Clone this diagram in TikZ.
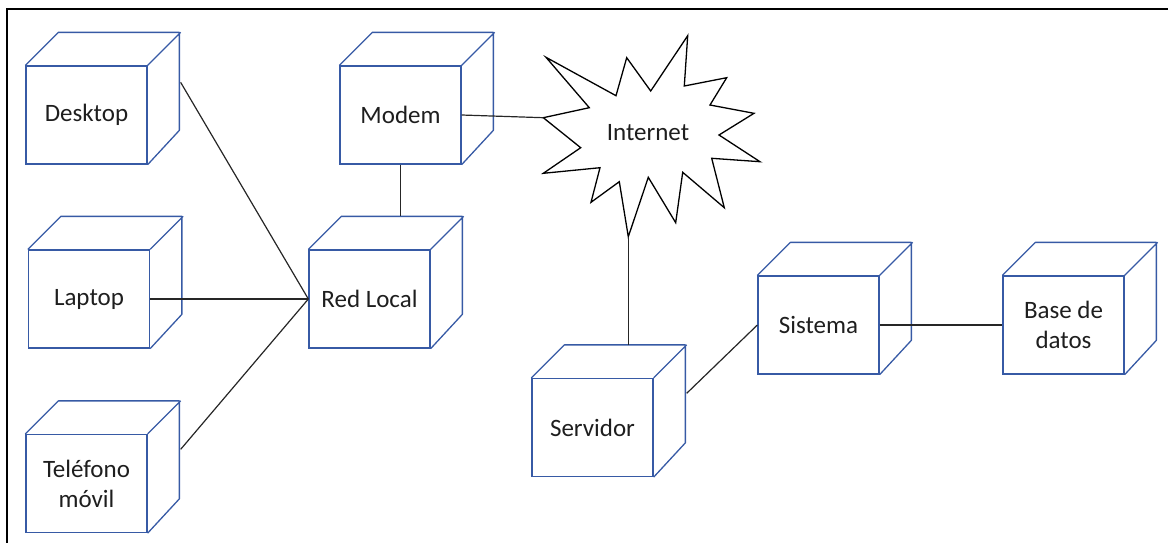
\documentclass[tikz,border=0pt]{standalone}
\usepackage{fontspec}
\setmainfont{Carlito}
\usetikzlibrary{calc}
\definecolor{cubeblue}{RGB}{55,90,165}
\definecolor{txt}{RGB}{30,30,30}
\begin{document}
\begin{tikzpicture}[x=1pt,y=-1pt,
  cube/.style={draw=cubeblue, line width=1.3pt, minimum width=121pt, minimum height=98pt,
    inner sep=0pt, align=center, text=txt, font=\fontsize{25}{30}\selectfont},
  cubeline/.style={draw=cubeblue, line width=1.3pt, line join=round},
  conn/.style={draw=black!85, line width=1.2pt}]
\useasboundingbox (0,0) rectangle (1168,542);
% frame
\draw[line width=2pt] (7,546) -- (7,9) -- (1172,9);
% cubes
\node[cube] (desk)  at (86.5,115)   {Desktop};
\node[cube] (lap)   at (89,299)     {Laptop};
\node[cube] (tel)   at (86.5,483.5) {Teléfono\\móvil};
\node[cube] (modem) at (400.5,115)  {Modem};
\node[cube] (red)   at (369.5,299)  {Red Local};
\node[cube] (serv)  at (592.5,427.5){Servidor};
\node[cube] (sis)   at (818.5,325)  {Sistema};
\node[cube] (base)  at (1063.5,325) {Base de\\datos};
\foreach \n in {desk,lap,tel,modem,red,serv,sis,base}
  \draw[cubeline] (\n.north west) -- ++(33,-33) -- ++(121,0) -- ++(0,98) -- (\n.south east)
                  (\n.north east) -- ++(33,-33);
% internet star
\draw[line width=1.3pt, line join=miter, fill=white]
  (543.3,117.7) -- (589.3,107.7) -- (546,57.3) -- (616,95.7) -- (626.7,57.7) -- (650.7,91)
  -- (687.7,35.7) -- (684.3,86) -- (726.7,77.7) -- (710,105) -- (754,113.3) -- (719,135)
  -- (760,161.7) -- (711.7,158.3) -- (724.3,207.7) -- (682.7,172.3) -- (675.7,222.7)
  -- (648.3,177.3) -- (628.3,236.7) -- (619.3,181.7) -- (591,202.3) -- (600,167.7)
  -- (543.3,173.3) -- (580.7,147.7) -- cycle;
\coordinate (inetw) at (543.3,117.7);
\coordinate (inets) at (628.3,236.7);
\node[text=txt, font=\fontsize{25}{30}\selectfont] (inet) at (648,133) {Internet};
% attachment points on back edges
\coordinate (deskp) at ($(desk.north east)+(33,17)$);
\coordinate (telp)  at ($(tel.north east)+(33,15.5)$);
\coordinate (servp) at ($(serv.north east)+(33,15.5)$);
\coordinate (redtop) at ($(red.north)+(0,-33)$);
\coordinate (servtop) at ($(serv.north)+(0,-33)$);
% connectors
\draw[conn] (deskp) -- (red.west);
\draw[conn] (lap.east) -- (red.west);
\draw[conn] (telp) -- (red.west);
\draw[conn] (modem.south) -- (modem.south |- redtop);
\draw[conn] (modem.east) -- (inetw);
\draw[conn] (inets) -- (inets |- servtop);
\draw[conn] (servp) -- (sis.west);
\draw[conn] (sis.east) -- (base.west);
\end{tikzpicture}
\end{document}
